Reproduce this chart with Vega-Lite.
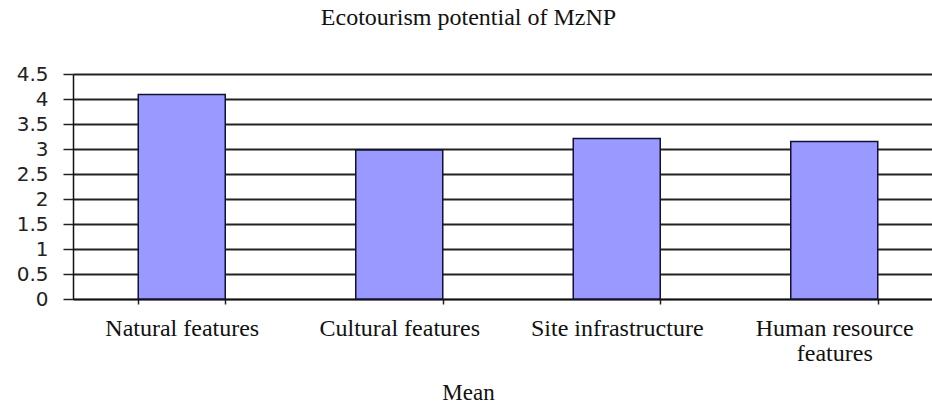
{
  "$schema": "https://vega.github.io/schema/vega-lite/v6.json",
  "autosize": {"type": "none"},
  "padding": {"left": 73, "top": 74, "right": 0, "bottom": 105},
  "width": 859,
  "height": 225,
  "background": "white",
  "title": {
    "text": "Ecotourism potential of MzNP",
    "font": "Liberation Serif",
    "fontSize": 24,
    "fontWeight": "normal",
    "color": "#111",
    "anchor": "middle",
    "dx": -34,
    "offset": 34
  },
  "config": {"view": {"stroke": null}},
  "data": {
    "values": [
      {"category": "Natural features", "mean": 4.09},
      {"category": "Cultural features", "mean": 2.98},
      {"category": "Site infrastructure", "mean": 3.21},
      {"category": "Human resource features", "mean": 3.15}
    ]
  },
  "mark": {"type": "bar", "color": "#9999FF", "stroke": "#111133", "strokeWidth": 1.5},
  "encoding": {
    "x": {
      "field": "category",
      "type": "nominal",
      "sort": null,
      "scale": {"range": [0, 870], "paddingInner": 0.6, "paddingOuter": 0.3},
      "axis": {
        "title": "Mean",
        "titleFont": "Liberation Serif",
        "titleFontSize": 23,
        "titleFontWeight": "normal",
        "titleColor": "#111",
        "titleX": 395,
        "titleY": 100,
        "titleBaseline": "alphabetic",
        "labelAngle": 0,
        "labelFont": "Liberation Serif",
        "labelFontSize": 24,
        "labelColor": "#111",
        "labelPadding": 12,
        "labelLineHeight": 25,
        "labelExpr": "datum.label == 'Human resource features' ? ['Human resource', 'features'] : datum.label",
        "tickBand": "extent",
        "tickSize": 5,
        "tickColor": "#222",
        "tickWidth": 1.5,
        "domainColor": "#111",
        "domainWidth": 1.5,
        "grid": false
      }
    },
    "y": {
      "field": "mean",
      "type": "quantitative",
      "scale": {"domain": [0, 4.5], "nice": false},
      "axis": {
        "title": null,
        "values": [0, 0.5, 1, 1.5, 2, 2.5, 3, 3.5, 4, 4.5],
        "format": "~g",
        "labelFont": "DejaVu Sans",
        "labelFontSize": 20,
        "labelColor": "#222",
        "labelPadding": 15,
        "tickSize": 10,
        "tickColor": "#222",
        "tickWidth": 1.5,
        "domainColor": "#111",
        "domainWidth": 1.5,
        "grid": true,
        "gridColor": "#222",
        "gridWidth": 2,
        "gridOpacity": 1
      }
    }
  }
}
